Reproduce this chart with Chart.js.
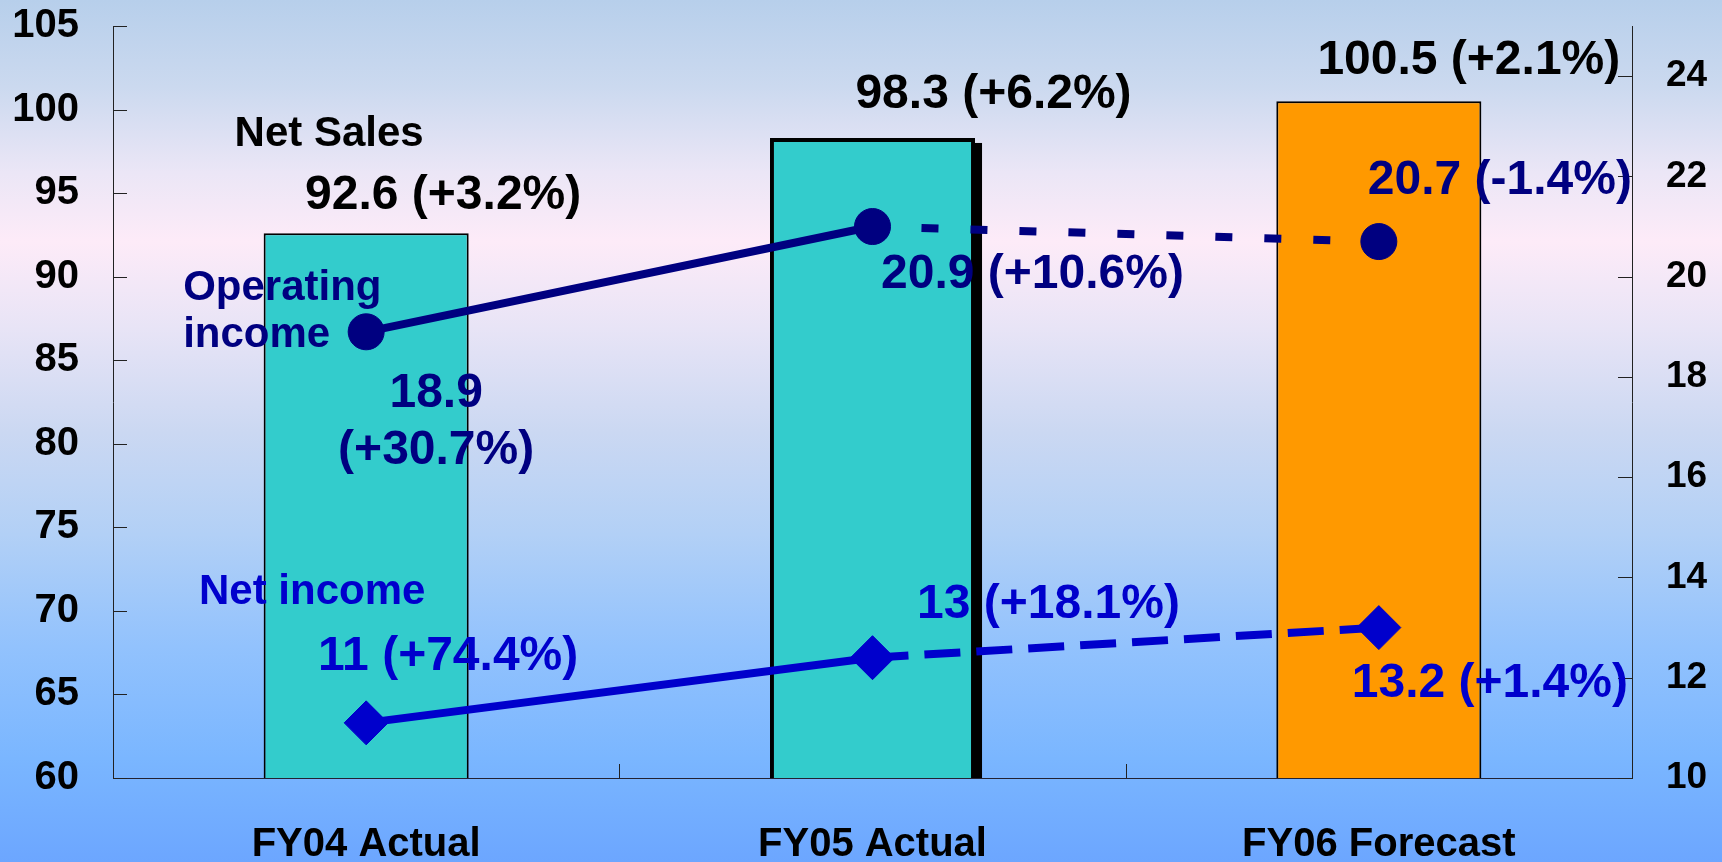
<!DOCTYPE html>
<html>
<head>
<meta charset="utf-8">
<script src="https://cdn.jsdelivr.net/npm/chart.js@4.4.0/dist/chart.umd.min.js"></script>
<style>
html,body{margin:0;padding:0;width:1722px;height:862px;overflow:hidden;}
body{background:linear-gradient(to bottom,#b7cfeb 0%,#cbd9ef 10%,#ebe6f6 20%,#fdebf8 28%,#e8e4f6 38%,#cbd8f2 50%,#b2d0f6 62%,#92c2fd 75%,#7ab6ff 88%,#6ca6ff 100%);}
canvas{display:block;}
</style>
</head>
<body>
<canvas id="c" width="1722" height="862"></canvas>
<script>
// ---- data ----
const categories = ['FY04 Actual', 'FY05 Actual', 'FY06 Forecast'];
const netSales = [92.6, 98.3, 100.5];
const operatingIncome = [18.9, 21.0, 20.7];
const netIncome = [11.1, 12.4, 13.0];
const leftTicks = [60, 65, 70, 75, 80, 85, 90, 95, 100, 105];
const rightTicks = [10, 12, 14, 16, 18, 20, 22, 24];
const salesLabels = ['92.6 (+3.2%)', '98.3 (+6.2%)', '100.5 (+2.1%)'];
const opLabels = [['18.9', '(+30.7%)'], ['20.9 (+10.6%)'], ['20.7 (-1.4%)']];
const niLabels = ['11 (+74.4%)', '13 (+18.1%)', '13.2 (+1.4%)'];
const seriesNames = {sales: ['Net Sales'], op: ['Operating', 'income'], ni: ['Net income']};

// ---- styles / layout ----
const NAVY = '#000080', BLUE = '#0000CC';
const valueFont = 'bold 48px "Liberation Sans", Arial, sans-serif';
const nameFont = 'bold 42px "Liberation Sans", Arial, sans-serif';
const labelPos = {
  salesName: {dx: -37, dy: -99},
  sales: [{dx: 77, dy: -37}, {dx: 121, dy: -43}, {dx: 90, dy: -40}],
  opName: {dx: -183, dy: -43, lh: 47},
  op: [{dx: 70, dy: 62, lh: 57}, {dx: 160, dy: 48}, {dx: 121, dy: -61}],
  niName: {dx: -54, dy: -130},
  ni: [{dx: 82, dy: -66}, {dx: 176, dy: -53}, {dx: 111, dy: 56}]
};

const shadowPlugin = {
  id: 'shadow',
  beforeDatasetDraw(chart, args) {
    if (args.index !== 2) return;
    const bar = chart.getDatasetMeta(2).data[1];
    if (!bar) return;
    const p = bar.getProps(['x', 'y', 'base', 'width'], true);
    const bottom = Math.min(p.base, chart.chartArea.bottom);
    const ctx = chart.ctx;
    ctx.save();
    ctx.fillStyle = '#000';
    ctx.fillRect(p.x - p.width / 2 + 7, p.y + 5, p.width, bottom - p.y - 5);
    ctx.restore();
  }
};

const overlayPlugin = {
  id: 'overlay',
  beforeDatasetsDraw(chart) {
    const ctx = chart.ctx;
    const xs = chart.scales.x, ys = chart.scales.y, y1 = chart.scales.y1;
    ctx.save();
    ctx.strokeStyle = '#222';
    ctx.lineWidth = 1;
    ctx.beginPath();
    leftTicks.forEach(v => {
      const py = Math.round(ys.getPixelForValue(v)) + 0.5;
      ctx.moveTo(xs.left, py); ctx.lineTo(xs.left + 14, py);
    });
    rightTicks.forEach(v => {
      const py = Math.round(y1.getPixelForValue(v)) + 0.5;
      ctx.moveTo(xs.right - 14, py); ctx.lineTo(xs.right, py);
    });
    for (let i = 0; i < categories.length - 1; i++) {
      const px = Math.round((xs.getPixelForValue(i) + xs.getPixelForValue(i + 1)) / 2) + 0.5;
      ctx.moveTo(px, ys.bottom); ctx.lineTo(px, ys.bottom - 14);
    }
    ctx.stroke();
    ctx.restore();
  },
  afterDatasetsDraw(chart) {
    const ctx = chart.ctx;
    const bars = chart.getDatasetMeta(2).data;
    const ops = chart.getDatasetMeta(0).data;
    const nis = chart.getDatasetMeta(1).data;
    ctx.save();
    ctx.textBaseline = 'middle';
    const put = (el, pos, lines, color, font, align) => {
      ctx.fillStyle = color; ctx.font = font; ctx.textAlign = align || 'center';
      lines.forEach((t, k) => ctx.fillText(t, el.x + pos.dx, el.y + pos.dy + k * (pos.lh || 0)));
    };
    put(bars[0], labelPos.salesName, seriesNames.sales, '#000', nameFont);
    bars.forEach((b, i) => put(b, labelPos.sales[i], [salesLabels[i]], '#000', valueFont));
    put(ops[0], labelPos.opName, seriesNames.op, NAVY, nameFont, 'left');
    ops.forEach((p, i) => put(p, labelPos.op[i], opLabels[i], NAVY, valueFont));
    put(nis[0], labelPos.niName, seriesNames.ni, BLUE, nameFont);
    nis.forEach((p, i) => put(p, labelPos.ni[i], [niLabels[i]], BLUE, valueFont));
    ctx.restore();
  }
};

const fixPad = s => { s.paddingTop = 26; s.paddingBottom = 0; };

new Chart(document.getElementById('c'), {
  data: {
    labels: categories,
    datasets: [
      {
        type: 'line', label: 'Operating income', data: operatingIncome, yAxisID: 'y1', order: 1,
        borderColor: NAVY, borderWidth: 8, backgroundColor: NAVY,
        pointStyle: 'circle', pointRadius: 18, pointBorderWidth: 1, pointBorderColor: NAVY, pointBackgroundColor: NAVY,
        borderCapStyle: 'butt', tension: 0,
        segment: {borderDash: c => c.p0DataIndex >= 1 ? [17, 32] : []}
      },
      {
        type: 'line', label: 'Net income', data: netIncome, yAxisID: 'y1', order: 2,
        borderColor: BLUE, borderWidth: 8, backgroundColor: BLUE,
        pointStyle: 'rectRot', pointRadius: 22, pointBorderWidth: 1, pointBorderColor: BLUE, pointBackgroundColor: BLUE,
        borderCapStyle: 'butt', tension: 0,
        segment: {borderDash: c => c.p0DataIndex >= 1 ? [36, 16] : []}
      },
      {
        type: 'bar', label: 'Net Sales', data: netSales, yAxisID: 'y', order: 3,
        backgroundColor: ['#33CCCC', '#33CCCC', '#FF9900'],
        borderColor: '#000', borderWidth: [2, 4, 2], borderSkipped: false,
        categoryPercentage: 1, barPercentage: 0.405
      }
    ]
  },
  options: {
    responsive: false, animation: false, devicePixelRatio: 1,
    layout: {padding: {top: 0, left: 0, right: 0, bottom: 0}},
    plugins: {legend: {display: false}, tooltip: {enabled: false}},
    scales: {
      x: {
        type: 'category', offset: true,
        grid: {display: false, drawTicks: false},
        border: {display: true, color: '#223', width: 1},
        ticks: {color: '#000', font: {family: '"Liberation Sans", Arial, sans-serif', size: 40, weight: 'bold'}, padding: 43, maxRotation: 0},
        afterFit: s => { s.height = 84; }
      },
      y: {
        type: 'linear', position: 'left', min: 60, max: 105,
        grid: {display: false, drawTicks: false},
        border: {display: true, color: '#222', width: 1},
        ticks: {color: '#000', font: {family: '"Liberation Sans", Arial, sans-serif', size: 40, weight: 'bold'}, padding: 34},
        afterBuildTicks: s => { s.ticks = leftTicks.map(v => ({value: v})); },
        afterFit: s => { s.width = 113; fixPad(s); }
      },
      y1: {
        type: 'linear', position: 'right', min: 10, max: 25,
        grid: {display: false, drawTicks: false},
        border: {display: true, color: '#222', width: 1},
        ticks: {color: '#000', font: {family: '"Liberation Sans", Arial, sans-serif', size: 37, weight: 'bold'}, padding: 34},
        afterBuildTicks: s => { s.ticks = rightTicks.map(v => ({value: v})); },
        afterFit: s => { s.width = 90; fixPad(s); }
      }
    }
  },
  plugins: [shadowPlugin, overlayPlugin]
});
</script>
</body>
</html>
